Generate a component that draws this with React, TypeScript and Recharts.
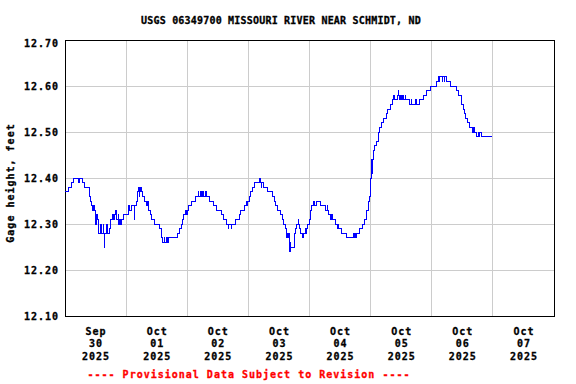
import React from "react";
import { LineChart, Line, XAxis, YAxis, CartesianGrid, ReferenceArea } from "recharts";

// Hours since 2025-09-30 00:00 (local), gage height in feet (step changes)
const sep30: [number, number][] = [
  [0, 12.37], [1.3, 12.38], [2.6, 12.39], [3.3, 12.4], [5.2, 12.39], [5.6, 12.4], [6.9, 12.39],
  [7.85, 12.38], [9.5, 12.37], [9.8, 12.36], [10.1, 12.35], [10.4, 12.34], [10.7, 12.33],
  [11.3, 12.34], [11.5, 12.33], [11.8, 12.32], [12.1, 12.3], [12.3, 12.32], [12.7, 12.31],
  [13.1, 12.28], [14.0, 12.3], [14.3, 12.28], [15.05, 12.3], [15.25, 12.28], [15.4, 12.25],
  [15.55, 12.28], [16.4, 12.3], [16.6, 12.28], [17.4, 12.29], [18.0, 12.31], [18.6, 12.32],
  [19.2, 12.31], [19.6, 12.32], [19.9, 12.33], [20.1, 12.31], [20.9, 12.32], [21.1, 12.3],
  [21.4, 12.31], [21.7, 12.3], [22.25, 12.31], [22.9, 12.32],
];
const oct01: [number, number][] = [
  [24.9, 12.33], [25.1, 12.34], [25.4, 12.33], [26.0, 12.34], [27.2, 12.31], [27.45, 12.34],
  [28.1, 12.35], [28.5, 12.37], [28.9, 12.38], [29.1, 12.36], [29.4, 12.37], [29.7, 12.38],
  [29.9, 12.37], [30.5, 12.36], [31.4, 12.35], [32.1, 12.34], [32.4, 12.35], [32.7, 12.33],
  [33.4, 12.32], [34.0, 12.31], [35.3, 12.3], [37.3, 12.29], [37.9, 12.27], [38.2, 12.26],
  [38.9, 12.27], [39.1, 12.26], [39.9, 12.27], [40.1, 12.26], [40.8, 12.27], [44.1, 12.28],
  [44.9, 12.29], [45.8, 12.3], [46.2, 12.31], [46.5, 12.32], [47.3, 12.33], [47.6, 12.32],
];
const oct02: [number, number][] = [
  [48.2, 12.33], [48.6, 12.34], [49.5, 12.35], [51.4, 12.36], [52.4, 12.37], [52.6, 12.36],
  [53.3, 12.37], [53.5, 12.36], [54.0, 12.37], [54.2, 12.36], [55.2, 12.37], [55.4, 12.36],
  [56.9, 12.35], [58.2, 12.34], [59.3, 12.33], [61.5, 12.32], [62.2, 12.31], [63.3, 12.3],
  [64.0, 12.29], [64.2, 12.3], [65.3, 12.29], [65.5, 12.3], [67.1, 12.31], [68.4, 12.32],
  [69.1, 12.33], [70.4, 12.34], [71.2, 12.35], [71.5, 12.34], [71.7, 12.35],
];
const oct03: [number, number][] = [
  [72.4, 12.36], [73.0, 12.37], [73.7, 12.38], [74.6, 12.39], [76.4, 12.4], [76.7, 12.39],
  [77.1, 12.38], [77.3, 12.39], [78.0, 12.38], [79.6, 12.37], [81.5, 12.36], [82.2, 12.35],
  [82.8, 12.34], [83.5, 12.33], [84.8, 12.32], [85.3, 12.31], [85.7, 12.3], [86.4, 12.29],
  [86.8, 12.28], [87.1, 12.27], [87.3, 12.28], [87.7, 12.27], [88.0, 12.28], [88.2, 12.26],
  [88.3, 12.24], [88.5, 12.26], [88.7, 12.25], [90.0, 12.28], [90.4, 12.29], [90.9, 12.3],
  [91.6, 12.31], [91.8, 12.3], [92.0, 12.29], [92.66, 12.28], [93.2, 12.27], [93.6, 12.28],
  [94.3, 12.29], [94.6, 12.28], [95.0, 12.29], [95.3, 12.3],
];
const oct04: [number, number][] = [
  [96.1, 12.31], [96.5, 12.33], [96.8, 12.34], [97.4, 12.35], [98.0, 12.34], [98.6, 12.35],
  [100.4, 12.34], [102.2, 12.33], [102.9, 12.34], [103.2, 12.33], [103.5, 12.32], [104.3, 12.31],
  [104.6, 12.32], [104.9, 12.31], [106.1, 12.3], [106.9, 12.29], [107.2, 12.3], [107.5, 12.29],
  [108.5, 12.28], [110.5, 12.27], [113.1, 12.28], [113.3, 12.27], [113.8, 12.28], [114.0, 12.27],
  [114.4, 12.28], [115.7, 12.29], [117.0, 12.3], [117.7, 12.31], [118.3, 12.33], [119.0, 12.34],
  [119.3, 12.35], [119.6, 12.36],
];
const oct05: [number, number][] = [
  [120.1, 12.4], [120.3, 12.44], [120.5, 12.41], [120.7, 12.44], [121.0, 12.45], [121.3, 12.46],
  [121.6, 12.47], [122.2, 12.48], [122.9, 12.49], [123.2, 12.5], [123.5, 12.51], [124.2, 12.52],
  [124.9, 12.53], [126.2, 12.54], [126.8, 12.55], [127.9, 12.56], [128.4, 12.57], [129.0, 12.58],
  [129.2, 12.57], [130.5, 12.58], [130.8, 12.59], [131.0, 12.58], [131.4, 12.57], [131.7, 12.58],
  [132.1, 12.57], [132.5, 12.58], [132.8, 12.57], [133.5, 12.58], [133.8, 12.57], [135.3, 12.56],
  [136.0, 12.57], [136.2, 12.56], [137.5, 12.57], [137.7, 12.56], [138.0, 12.57], [138.2, 12.56],
  [139.3, 12.57], [140.6, 12.58], [142.1, 12.59], [143.6, 12.6],
];
const oct06: [number, number][] = [
  [145.9, 12.61], [146.8, 12.62], [147.0, 12.61], [147.2, 12.62], [148.2, 12.61], [148.4, 12.62],
  [148.9, 12.61], [149.1, 12.62], [149.9, 12.61], [151.4, 12.6], [153.8, 12.59], [154.4, 12.58],
  [155.7, 12.56], [156.4, 12.55], [156.8, 12.54], [157.4, 12.53], [158.0, 12.52], [159.0, 12.51],
  [160.0, 12.5], [160.3, 12.51], [160.6, 12.5], [161.6, 12.49], [162.2, 12.5], [162.4, 12.49],
  [162.9, 12.5], [163.6, 12.49], [167.5, 12.49],
];

const xDomain: [number, number] = [0, 192];
const gridHours = [24, 48, 72, 96, 120, 144, 168];
const labelHours = [12, 36, 60, 84, 108, 132, 156, 180];
const monthLabels = ["Sep", "Oct", "Oct", "Oct", "Oct", "Oct", "Oct", "Oct"];
const dayLabels = ["30", "01", "02", "03", "04", "05", "06", "07"];
const yearLabels = ["2025", "2025", "2025", "2025", "2025", "2025", "2025", "2025"];
const yDomain: [number, number] = [12.1, 12.7];
const yTicks = [12.1, 12.2, 12.3, 12.4, 12.5, 12.6, 12.7];

const titleText = "USGS 06349700 MISSOURI RIVER NEAR SCHMIDT, ND";
const yLabelText = "Gage height, feet";
const footerText = "---- Provisional Data Subject to Revision ----";

const data = [...sep30, ...oct01, ...oct02, ...oct03, ...oct04, ...oct05, ...oct06].map(([h, v]) => ({ h, v }));

const FONT = "'DejaVu Sans Mono', monospace";
const textStyle = { fontFamily: FONT, fontWeight: 700, fontSize: 10, letterSpacing: 1 } as const;

const XTick = (props: any) => {
  const { x, y, payload } = props;
  const i = labelHours.indexOf(payload.value);
  if (i < 0) return null;
  return (
    <text x={x + 0.5} y={y} textAnchor="middle" fill="#000" stroke="#000" strokeWidth={0.3} style={textStyle}>
      <tspan x={x + 0.5} dy={18.7}>{monthLabels[i]}</tspan>
      <tspan x={x + 0.5} dy={12.7}>{dayLabels[i]}</tspan>
      <tspan x={x + 0.5} dy={12.8}>{yearLabels[i]}</tspan>
    </text>
  );
};

const YTick = (props: any) => {
  const { x, y, payload } = props;
  return (
    <text x={x} y={Math.max(y, 43.7) + 3.6} textAnchor="end" fill="#000" stroke="#000" strokeWidth={0.3} style={textStyle}>
      {Number(payload.value).toFixed(2)}
    </text>
  );
};

export default function App() {
  return (
    <div style={{ position: "relative", width: 576, height: 384, background: "#fff" }}>
      <style>{`body{margin:0;background:#fff}`}</style>
      <LineChart width={576} height={384} data={data} margin={{ top: 40, right: 22, left: 0, bottom: 0 }}>
        <XAxis xAxisId="grid" dataKey="h" type="number" domain={xDomain} ticks={gridHours} hide allowDataOverflow />
        <CartesianGrid xAxisId="grid" stroke="#cccccc" strokeWidth={1} shapeRendering="crispEdges" />
        <XAxis
          dataKey="h"
          type="number"
          domain={xDomain}
          ticks={labelHours}
          interval={0}
          height={68}
          tick={<XTick />}
          tickLine={false}
          axisLine={false}
          tickSize={0}
          tickMargin={0}
          allowDataOverflow
        />
        <YAxis
          type="number"
          domain={yDomain}
          ticks={yTicks}
          interval={0}
          width={65}
          tick={<YTick />}
          tickLine={false}
          axisLine={false}
          tickSize={0}
          tickMargin={6}
          allowDataOverflow
        />
        <Line
          dataKey="v"
          type="stepAfter"
          stroke="#0000ff"
          strokeWidth={1}
          dot={false}
          isAnimationActive={false}
          shapeRendering="crispEdges"
        />
        <ReferenceArea
          x1={xDomain[0]}
          x2={xDomain[1]}
          y1={yDomain[0]}
          y2={yDomain[1]}
          fill="none"
          fillOpacity={0}
          stroke="#000"
          strokeWidth={1}
          strokeOpacity={1}
          shapeRendering="crispEdges"
          ifOverflow="visible"
        />
      </LineChart>
      <svg width={576} height={384} style={{ position: "absolute", left: 0, top: 0, pointerEvents: "none" }}>
        <text x={281} y={24} textAnchor="middle" fill="#000" stroke="#000" strokeWidth={0.3} style={{ ...textStyle, letterSpacing: 0.2 }}>
          {titleText}
        </text>
        <text transform="translate(14,183) rotate(-90)" x={0} y={0} textAnchor="middle" fill="#000" stroke="#000" strokeWidth={0.3} style={textStyle}>
          {yLabelText}
        </text>
        <text x={249} y={377.7} textAnchor="middle" fill="#ff0000" stroke="#ff0000" strokeWidth={0.3} style={textStyle}>
          {footerText}
        </text>
      </svg>
    </div>
  );
}
